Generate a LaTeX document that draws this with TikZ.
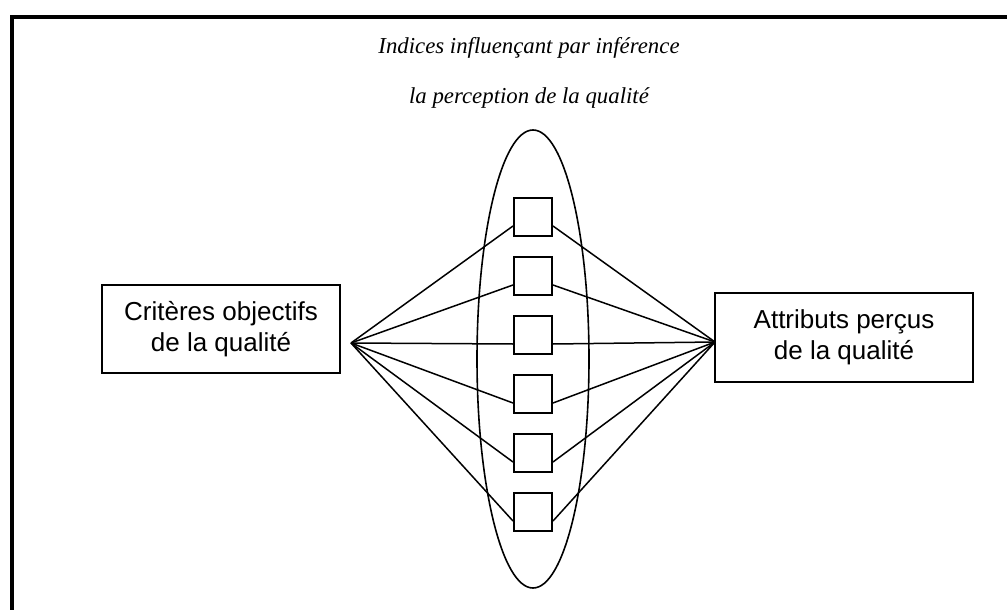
\documentclass[tikz,border=0pt]{standalone}
\usepackage{fontspec}
\setmainfont{Liberation Serif}
\setsansfont{Liberation Sans}
\usetikzlibrary{positioning, calc, shapes.geometric}

\begin{document}
\begin{tikzpicture}[
    % 坐标单位:一个像素
    x=0.5pt, y=-0.5pt,
    node distance=9.5pt,
    % 样式定义
    boite/.style={
        draw,
        line width=1pt,
        align=center,
        inner sep=0pt,
        font=\sffamily\fontsize{13}{15.5}\selectfont
    },
    carre/.style={draw, line width=1pt, minimum size=19pt, inner sep=0pt},
    lien/.style={line width=0.75pt}
]
    \useasboundingbox (0,0) rectangle (1007,610);

    % ====== 1. 外框 (上边与左边) ======
    \draw[line width=2pt] (1007,17) -- (12,17) -- (12,610);

    % ====== 2. 标题 ======
    \node[font=\itshape\fontsize{11.4}{25}\selectfont, align=center] (titre) at (529,73)
        {Indices influençant par inférence\\la perception de la qualité};

    % ====== 3. 中间:椭圆与六个小方块 ======
    \node[draw, ellipse, line width=0.8pt, minimum width=56pt, minimum height=229pt, inner sep=0pt]
        (halo) at (533,359) {};
    \node[carre] (sq1) at (533,216.5) {};
    \foreach \i [count=\j from 2] in {1,...,5}
        \node[carre, below=of sq\i] (sq\j) {};

    % ====== 4. 左右两个方框 ======
    \node[boite, minimum width=119pt, minimum height=44pt] (crit) at (221,329)
        {Critères objectifs\\de la qualité};
    \node[boite, minimum width=129pt, minimum height=44.5pt] (attr) at (844,337.5)
        {Attributs perçus\\de la qualité};

    % 扇形连线的汇聚点
    \coordinate (gauche) at (351,343);
    \coordinate (droite) at (715,342);

    % 连接线
    \foreach \i in {1,...,6} {
        \draw[lien] (gauche) -- ($(sq\i.west)+(0,9.5)$);
        \draw[lien] ($(sq\i.east)+(0,9.5)$) -- (droite);
    }

\end{tikzpicture}
\end{document}
